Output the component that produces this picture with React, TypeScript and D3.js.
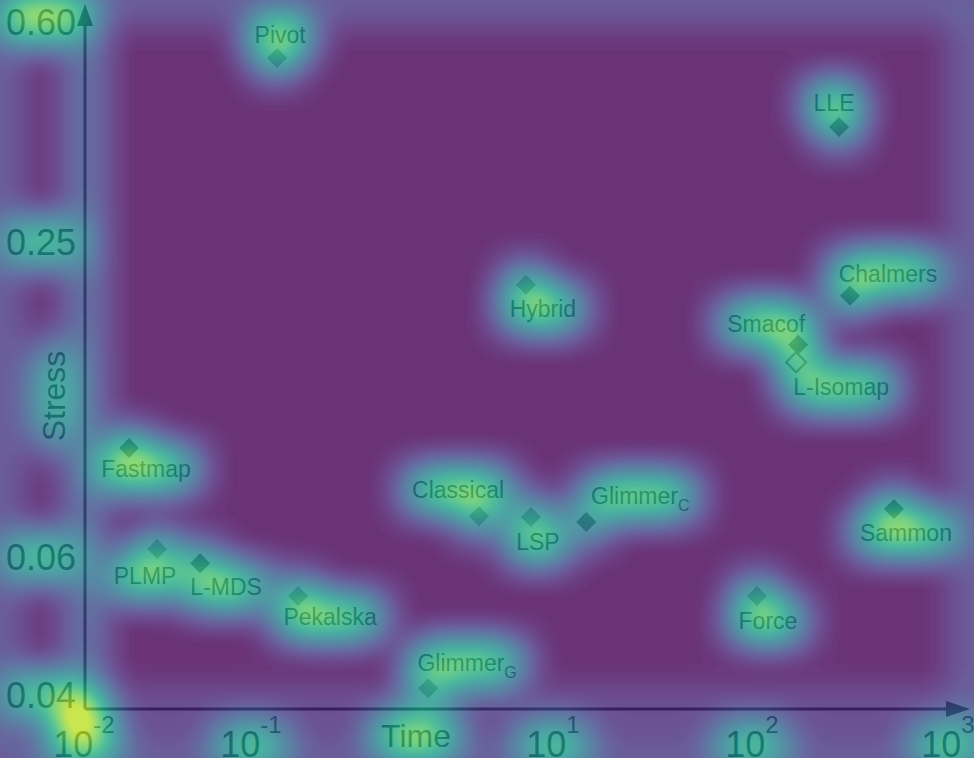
import React, { useMemo } from "react";
import * as d3 from "d3";

// method names, time (s) and stress
const methods = [
  "Pivot", "LLE", "Hybrid", "Chalmers", "Smacof", "L-Isomap", "Fastmap", "Classical",
  "LSP", "GlimmerC", "Sammon", "PLMP", "L-MDS", "Pekalska", "Force", "GlimmerG",
];
const timeValues = [
  0.149, 278, 6.62, 316, 172, 168, 0.0186, 3.24, 7.14, 14.7, 530, 0.0274, 0.0496, 0.205, 106, 1.49,
];
const stressValues = [
  0.52, 0.395, 0.206, 0.196, 0.157, 0.145, 0.0983, 0.0722, 0.0719, 0.0703, 0.0746, 0.0622, 0.0589,
  0.0535, 0.0535, 0.0408,
];
const xTickExponents = [-2, -1, 1, 2, 3];
const yTickValues = [0.04, 0.06, 0.25, 0.6];
const yTickLabels = ["0.04", "0.06", "0.25", "0.60"];

// label placement relative to the marker (layout only)
const labelOffset: Record<string, [number, number]> = {
  Pivot: [3, -23], LLE: [-5, -24], Hybrid: [17, 24], Chalmers: [38, -22],
  Smacof: [-32, -21], "L-Isomap": [45, 25], Fastmap: [17, 21], Classical: [-21, -26],
  LSP: [7, 25], GlimmerC: [54, -26], Sammon: [12, 24], PLMP: [-12, 27],
  "L-MDS": [26, 24], Pekalska: [32, 21], Force: [11, 25], GlimmerG: [39, -25],
};
const labelParts: Record<string, [string, string]> = {
  GlimmerC: ["Glimmer", "C"],
  GlimmerG: ["Glimmer", "G"],
};
const darkMarkers = new Set(["Smacof", "Chalmers", "GlimmerC", "L-MDS", "Sammon", "Fastmap", "LLE"]);
const hollowMarkers = new Set(["L-Isomap"]);

const W = 974;
const H = 758;
const FONT = '"Liberation Sans", Arial, sans-serif';

export default function App() {
  const ctx = useMemo(() => document.createElement("canvas").getContext("2d")!, []);
  const measure = (t: string, size: number) => {
    ctx.font = `${size}px "Liberation Sans"`;
    return ctx.measureText(t).width;
  };

  const x = d3.scaleLog().domain([0.01, 0.1, 10, 100, 1000]).range([84, 251, 553, 752, 948]);
  const y = d3.scaleLog().domain([0.04, 0.06, 0.25, 0.6]).range([695, 557, 242, 22]);

  const axisX = 85;
  const axisY = 709;

  const points = methods.map((m, i) => {
    const px = x(timeValues[i]);
    const py = y(stressValues[i]);
    const [dx, dy] = labelOffset[m];
    return { name: m, px, py, lx: px + dx, ly: py + dy };
  });

  const diamond = d3.symbol(d3.symbolSquare, 200)()!;

  // viridis lookup for the saliency overlay
  const n = 24;
  const vir = d3.range(n).map((i) => d3.rgb(d3.interpolateViridis((i / (n - 1)) * 0.9)));
  const tR = vir.map((c) => (c.r / 255).toFixed(3)).join(" ");
  const tG = vir.map((c) => (c.g / 255).toFixed(3)).join(" ");
  const tB = vir.map((c) => (c.b / 255).toFixed(3)).join(" ");

  // saliency sources: boxes round every text and marker
  const boxes: { x: number; y: number; w: number; h: number; o: number }[] = [];
  points.forEach((p) => {
    const parts = labelParts[p.name];
    const w = parts ? measure(parts[0], 23) + measure(parts[1], 16) : measure(p.name, 23);
    boxes.push({ x: p.lx - w / 2, y: p.ly - 10, w, h: 20, o: 1 });
  });
  yTickValues.forEach((v, i) => {
    const w = measure(yTickLabels[i], 36);
    boxes.push({ x: 76 - w, y: y(v) - 12, w, h: 24, o: 0.7 });
  });
  xTickExponents.forEach((e) => {
    const w = measure("10", 36) + measure("-2", 24);
    boxes.push({ x: x(Math.pow(10, e)) - w / 2, y: 732, w, h: 28, o: 0.6 });
  });
  boxes.push({ x: 416 - 36, y: 724, w: 72, h: 24, o: 0.9 });
  boxes.push({ x: 42, y: 350, w: 22, h: 92, o: 0.6 });

  return (
    <svg width={W} height={H} style={{ position: "absolute", left: 0, top: 0 }}>
      <defs>
        <filter
          id="heat"
          x={-60}
          y={-60}
          width={W + 120}
          height={H + 120}
          filterUnits="userSpaceOnUse"
          colorInterpolationFilters="sRGB"
        >
          <feGaussianBlur stdDeviation={19} />
          <feComponentTransfer>
            <feFuncR type="gamma" amplitude={1.55} exponent={0.8} offset={0} />
            <feFuncG type="gamma" amplitude={1.55} exponent={0.8} offset={0} />
            <feFuncB type="gamma" amplitude={1.55} exponent={0.8} offset={0} />
          </feComponentTransfer>
          <feComponentTransfer>
            <feFuncR type="table" tableValues={tR} />
            <feFuncG type="table" tableValues={tG} />
            <feFuncB type="table" tableValues={tB} />
          </feComponentTransfer>
        </filter>
      </defs>

      <rect x={0} y={0} width={W} height={H} fill="#fff" />

      {/* chart */}
      <g fontFamily={FONT} fill="#000">
        <line x1={axisX} y1={axisY} x2={axisX} y2={20} stroke="#000" strokeWidth={3} />
        <path d={`M${axisX - 8},${26} L${axisX},${4} L${axisX + 8},${26} Z`} />
        <line x1={axisX} y1={axisY} x2={950} y2={axisY} stroke="#000" strokeWidth={3} />
        <path d={`M${946},${axisY - 8} L${970},${axisY} L${946},${axisY + 8} Z`} />

        {yTickValues.map((v, i) => (
          <text key={v} x={76} y={y(v) + 13} fontSize={36} textAnchor="end">
            {yTickLabels[i]}
          </text>
        ))}
        {xTickExponents.map((e) => (
          <text key={e} x={x(Math.pow(10, e))} y={757} fontSize={36} textAnchor="middle">
            10
            <tspan fontSize={24} dy={-24}>
              {e}
            </tspan>
          </text>
        ))}
        <text x={416} y={747} fontSize={32} textAnchor="middle">
          Time
        </text>
        <text transform="translate(65,396) rotate(-90)" fontSize={32} textAnchor="middle">
          Stress
        </text>

        {points.map((p) => (
          <path
            key={p.name}
            d={diamond}
            transform={`translate(${p.px},${p.py}) rotate(45)`}
            fill={hollowMarkers.has(p.name) ? "#fff" : darkMarkers.has(p.name) ? "#4a4a4a" : "#888"}
            stroke={hollowMarkers.has(p.name) ? "#555" : "none"}
            strokeWidth={2}
          />
        ))}
        {points.map((p) => {
          const parts = labelParts[p.name];
          return (
            <text key={p.name} x={p.lx} y={p.ly + 8} fontSize={23} textAnchor="middle" fill="#111">
              {parts ? parts[0] : p.name}
              {parts && (
                <tspan fontSize={16} dy={7}>
                  {parts[1]}
                </tspan>
              )}
            </text>
          );
        })}
      </g>

      {/* saliency overlay */}
      <g opacity={0.8}>
        <g filter="url(#heat)">
          <rect x={-60} y={-60} width={W + 120} height={H + 120} fill="#000" />
          <rect x={0} y={0} width={W} height={H} fill="none" stroke="#fff" strokeWidth={22} strokeOpacity={0.14} />
          <line x1={axisX} y1={axisY} x2={axisX} y2={4} stroke="#fff" strokeWidth={12} strokeOpacity={0.4} />
          <line x1={axisX} y1={axisY} x2={970} y2={axisY} stroke="#fff" strokeWidth={8} strokeOpacity={0.22} />
          <circle cx={axisX - 4} cy={axisY + 6} r={22} fill="#fff" opacity={0.9} />
          <rect x={0} y={0} width={90} height={22} fill="#fff" opacity={0.6} />
          {boxes.map((b, i) => (
            <rect key={i} x={b.x} y={b.y} width={b.w} height={b.h} fill="#fff" opacity={b.o} />
          ))}
          {points.map((p) => (
            <circle key={p.name} cx={p.px} cy={p.py} r={11} fill="#fff" />
          ))}
        </g>
      </g>
    </svg>
  );
}
